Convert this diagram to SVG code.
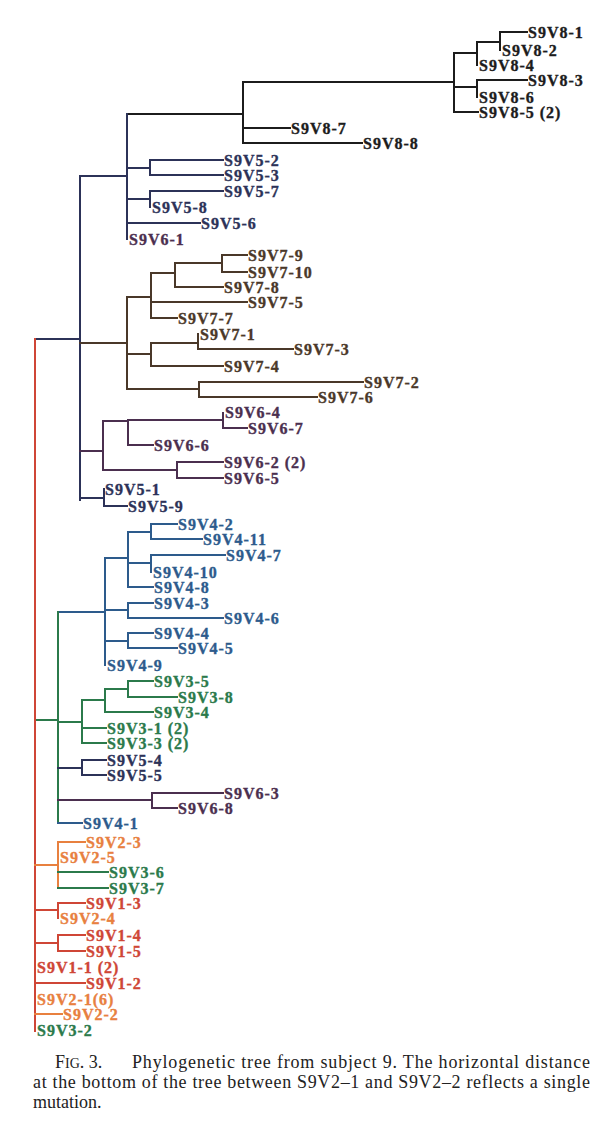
<svg xmlns="http://www.w3.org/2000/svg" width="604" height="1130" viewBox="0 0 604 1130">
<style>
path{fill:none;stroke-width:2;stroke-linecap:square}
.k{stroke:#1c1c1c}.n{stroke:#2c3258}.p{stroke:#4b2f4f}.b{stroke:#4a3829}.u{stroke:#2d5b8c}.g{stroke:#2b7a4b}.o{stroke:#e8803f}.r{stroke:#cf4636}
text{font-family:"Liberation Serif","Times New Roman",serif;font-weight:bold;font-size:16px;letter-spacing:1px;stroke-width:0.35px}
.tk{fill:#1c1c1c;stroke:#1c1c1c}.tn{fill:#2c3258;stroke:#2c3258}.tp{fill:#4b2f4f;stroke:#4b2f4f}.tb{fill:#4a3829;stroke:#4a3829}.tu{fill:#2d5b8c;stroke:#2d5b8c}.tg{fill:#2b7a4b;stroke:#2b7a4b}.to{fill:#e8803f;stroke:#e8803f}.tr{fill:#cf4636;stroke:#cf4636}
.cap{font-family:"Liberation Serif","Times New Roman",serif;font-weight:normal;font-size:18px;letter-spacing:0;fill:#222;stroke:none}
</style>
<rect width="604" height="1130" fill="#fff"/>
<g id="branches">
<path class="k" d="M127,114H243M243,82V143M243,82H454M243,128H290M243,143H362M454,53V112M454,53H477M477,42V65M477,42H500M500,32V50M500,32H527M454,87H477M477,80V97M477,80H527M454,112H478"/>
<path class="n" d="M35,339H80M80,176V500M80,176H127M127,114V239M127,168H150M150,160V175M150,160H223M150,175H223M127,199H150M150,191V207M150,191H223M127,223H200M80,498H104M104,489V506M104,506H127"/>
<path class="b" d="M80,343H127M127,297V389M127,297H151M151,273V318M151,273H175M175,263V287M175,263H222M222,255V272M222,255H247M222,272H247M175,287H223M151,302H247M151,318H177M127,354H151M151,343V366M151,343H198M198,334V349M198,349H293M151,366H223M127,389H199M199,382V397M199,382H363M199,397H317"/>
<path class="p" d="M80,451H103M103,421V470M103,421H128M128,420V445M128,420H223M223,413V428M223,428H247M128,445H153M103,470H177M177,462V478M177,462H223M177,478H223"/>
<path class="u" d="M58,612H105M105,558V665M105,558H128M128,532V587M128,532H151M151,524V539M151,524H177M151,539H202M128,563H151M151,555V572M151,555H225M128,587H153M105,610H128M128,603V618M128,603H153M128,618H223M105,641H128M128,633V648M128,633H153M128,648H177"/>
<path class="g" d="M35,720H58M58,612V823M58,722H82M82,700V743M82,700H105M105,689V712M105,689H128M128,681V697M128,681H153M128,697H177M105,712H153M82,728H106M82,743H106"/>
<path class="n" d="M58,768H82M82,760V775M82,760H106M82,775H106"/>
<path class="p" d="M58,800H152M152,793V808M152,793H223M152,808H177"/>
<path class="u" d="M58,823H82"/>
<path class="r" d="M35,339V1031"/>
<path class="o" d="M35,865H58M58,842V888M58,842H85"/>
<path class="g" d="M58,872H108M58,888H108"/>
<path class="r" d="M35,910H58M58,903V918M58,903H85M35,943H58M58,935V951M58,935H85M58,951H85M35,983H85"/>
<path class="o" d="M35,1014H62"/>
</g>
<g id="clade-V8">
<g id="S9V8-1"><text class="tk" x="528" y="38">S9V8-1</text></g>
<g id="S9V8-2"><text class="tk" x="502" y="56">S9V8-2</text></g>
<g id="S9V8-4"><text class="tk" x="479" y="71">S9V8-4</text></g>
<g id="S9V8-3"><text class="tk" x="528" y="86">S9V8-3</text></g>
<g id="S9V8-6"><text class="tk" x="479" y="103">S9V8-6</text></g>
<g id="S9V8-5"><text class="tk" x="479" y="118">S9V8-5 (2)</text></g>
<g id="S9V8-7"><text class="tk" x="291" y="134">S9V8-7</text></g>
<g id="S9V8-8"><text class="tk" x="363" y="149">S9V8-8</text></g>
</g>
<g id="clade-V5a">
<g id="S9V5-2"><text class="tn" x="224" y="166">S9V5-2</text></g>
<g id="S9V5-3"><text class="tn" x="224" y="181">S9V5-3</text></g>
<g id="S9V5-7"><text class="tn" x="224" y="197">S9V5-7</text></g>
<g id="S9V5-8"><text class="tn" x="152" y="213">S9V5-8</text></g>
<g id="S9V5-6"><text class="tn" x="201" y="229">S9V5-6</text></g>
<g id="S9V6-1"><text class="tp" x="129" y="245">S9V6-1</text></g>
</g>
<g id="clade-V7">
<g id="S9V7-9"><text class="tb" x="248" y="261">S9V7-9</text></g>
<g id="S9V7-10"><text class="tb" x="248" y="278">S9V7-10</text></g>
<g id="S9V7-8"><text class="tb" x="224" y="293">S9V7-8</text></g>
<g id="S9V7-5"><text class="tb" x="248" y="308">S9V7-5</text></g>
<g id="S9V7-7"><text class="tb" x="178" y="324">S9V7-7</text></g>
<g id="S9V7-1"><text class="tb" x="200" y="340">S9V7-1</text></g>
<g id="S9V7-3"><text class="tb" x="294" y="355">S9V7-3</text></g>
<g id="S9V7-4"><text class="tb" x="224" y="372">S9V7-4</text></g>
<g id="S9V7-2"><text class="tb" x="364" y="388">S9V7-2</text></g>
<g id="S9V7-6"><text class="tb" x="318" y="403">S9V7-6</text></g>
</g>
<g id="clade-V6">
<g id="S9V6-4"><text class="tp" x="225" y="418">S9V6-4</text></g>
<g id="S9V6-7"><text class="tp" x="248" y="434">S9V6-7</text></g>
<g id="S9V6-6"><text class="tp" x="154" y="451">S9V6-6</text></g>
<g id="S9V6-2"><text class="tp" x="224" y="468">S9V6-2 (2)</text></g>
<g id="S9V6-5"><text class="tp" x="224" y="484">S9V6-5</text></g>
<g id="S9V5-1"><text class="tn" x="105" y="495">S9V5-1</text></g>
<g id="S9V5-9"><text class="tn" x="128" y="512">S9V5-9</text></g>
</g>
<g id="clade-V4">
<g id="S9V4-2"><text class="tu" x="178" y="530">S9V4-2</text></g>
<g id="S9V4-11"><text class="tu" x="203" y="545">S9V4-11</text></g>
<g id="S9V4-7"><text class="tu" x="226" y="561">S9V4-7</text></g>
<g id="S9V4-10"><text class="tu" x="153" y="578">S9V4-10</text></g>
<g id="S9V4-8"><text class="tu" x="154" y="593">S9V4-8</text></g>
<g id="S9V4-3"><text class="tu" x="154" y="609">S9V4-3</text></g>
<g id="S9V4-6"><text class="tu" x="224" y="624">S9V4-6</text></g>
<g id="S9V4-4"><text class="tu" x="154" y="639">S9V4-4</text></g>
<g id="S9V4-5"><text class="tu" x="178" y="654">S9V4-5</text></g>
<g id="S9V4-9"><text class="tu" x="107" y="671">S9V4-9</text></g>
</g>
<g id="clade-V3">
<g id="S9V3-5"><text class="tg" x="154" y="687">S9V3-5</text></g>
<g id="S9V3-8"><text class="tg" x="178" y="703">S9V3-8</text></g>
<g id="S9V3-4"><text class="tg" x="154" y="718">S9V3-4</text></g>
<g id="S9V3-1"><text class="tg" x="107" y="734">S9V3-1 (2)</text></g>
<g id="S9V3-3"><text class="tg" x="107" y="749">S9V3-3 (2)</text></g>
<g id="S9V5-4"><text class="tn" x="107" y="766">S9V5-4</text></g>
<g id="S9V5-5"><text class="tn" x="107" y="781">S9V5-5</text></g>
<g id="S9V6-3"><text class="tp" x="224" y="799">S9V6-3</text></g>
<g id="S9V6-8"><text class="tp" x="178" y="814">S9V6-8</text></g>
<g id="S9V4-1"><text class="tu" x="83" y="829">S9V4-1</text></g>
</g>
<g id="clade-V1V2">
<g id="S9V2-3"><text class="to" x="86" y="848">S9V2-3</text></g>
<g id="S9V2-5"><text class="to" x="60" y="863">S9V2-5</text></g>
<g id="S9V3-6"><text class="tg" x="109" y="878">S9V3-6</text></g>
<g id="S9V3-7"><text class="tg" x="109" y="894">S9V3-7</text></g>
<g id="S9V1-3"><text class="tr" x="86" y="909">S9V1-3</text></g>
<g id="S9V2-4"><text class="to" x="60" y="924">S9V2-4</text></g>
<g id="S9V1-4"><text class="tr" x="86" y="941">S9V1-4</text></g>
<g id="S9V1-5"><text class="tr" x="86" y="957">S9V1-5</text></g>
<g id="S9V1-1"><text class="tr" x="37" y="973">S9V1-1 (2)</text></g>
<g id="S9V1-2"><text class="tr" x="86" y="989">S9V1-2</text></g>
<g id="S9V2-1"><text class="to" x="37" y="1005">S9V2-1(6)</text></g>
<g id="S9V2-2"><text class="to" x="63" y="1020">S9V2-2</text></g>
<g id="S9V3-2"><text class="tg" x="37" y="1036">S9V3-2</text></g>
</g>
<g id="caption">
<text class="cap" x="55" y="1068">F<tspan font-size="14">IG</tspan>. 3.</text>
<text class="cap" x="132" y="1068" textLength="458" lengthAdjust="spacing">Phylogenetic tree from subject 9. The horizontal distance</text>
<text class="cap" x="33" y="1088" textLength="557" lengthAdjust="spacing">at the bottom of the tree between S9V2–1 and S9V2–2 reflects a single</text>
<text class="cap" x="33" y="1108">mutation.</text>
</g>
</svg>
